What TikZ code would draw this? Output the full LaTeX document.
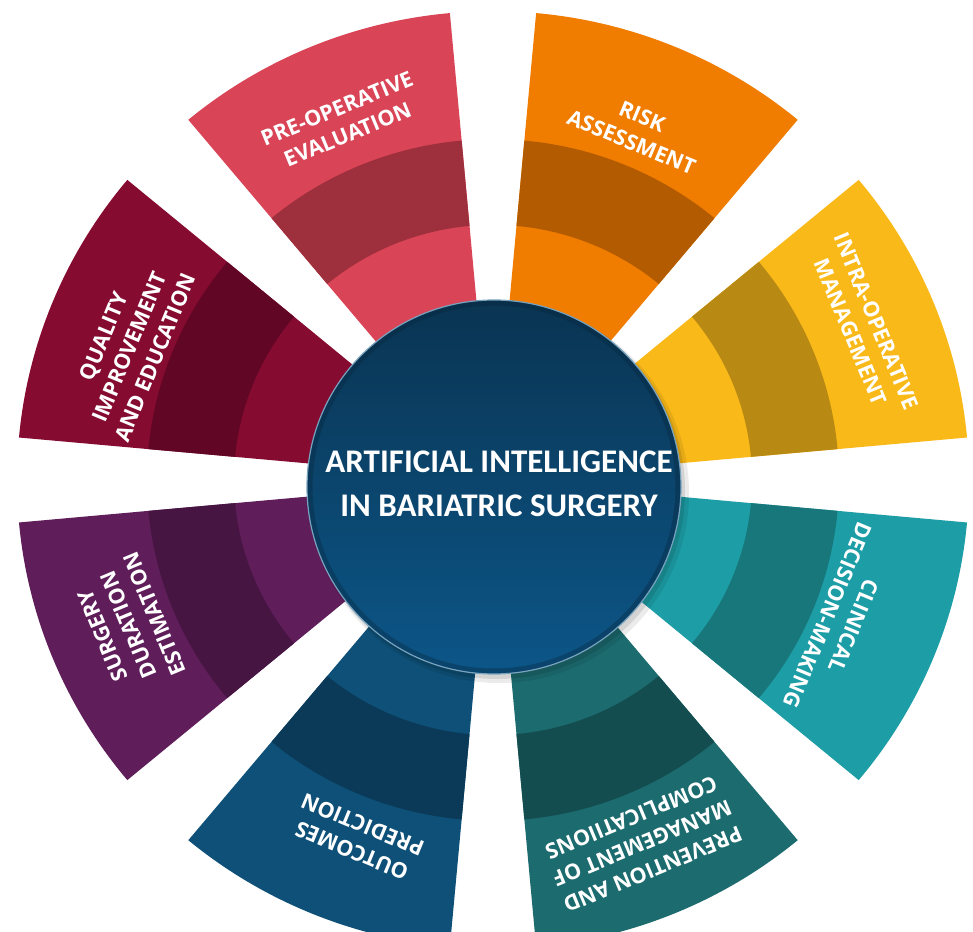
\documentclass[tikz,border=0pt]{standalone}
\usepackage{fontspec}
\setmainfont{Open Sans}
\newfontfamily\titlefont{Carlito}
\definecolor{preL}{HTML}{D94457}\definecolor{preD}{HTML}{9E2F3C}
\definecolor{riskL}{HTML}{F07C00}\definecolor{riskD}{HTML}{B35B00}
\definecolor{intraL}{HTML}{F9B918}\definecolor{intraD}{HTML}{B88913}
\definecolor{clinL}{HTML}{1D9EA6}\definecolor{clinD}{HTML}{18777B}
\definecolor{prevL}{HTML}{1C6B6F}\definecolor{prevD}{HTML}{144D50}
\definecolor{outL}{HTML}{0E5077}\definecolor{outD}{HTML}{0A3A58}
\definecolor{surgL}{HTML}{5F1D5A}\definecolor{surgD}{HTML}{461542}
\definecolor{qualL}{HTML}{850B31}\definecolor{qualD}{HTML}{620626}
\definecolor{circTop}{HTML}{0A3452}\definecolor{circBot}{HTML}{0C5688}
\newcommand\fanseg[3]{%
  \pgfmathsetmacro\aA{#1-17.3}\pgfmathsetmacro\aB{#1+17.3}%
  \fill[#2] (\aA:120) arc[start angle=\aA,end angle=\aB,radius=120]
     -- (\aB:476) arc[start angle=\aB,end angle=\aA,radius=476] -- cycle;
  \fill[#3] (\aA:259) arc[start angle=\aA,end angle=\aB,radius=259]
     -- (\aB:346) arc[start angle=\aB,end angle=\aA,radius=346] -- cycle;
}
\tikzset{
  seglabel/.style={text=white, align=center, inner sep=0pt,
    font=\bfseries\fontsize{21.5}{28}\selectfont},
  titletext/.style={text=white, align=center, inner sep=0pt,
    font=\titlefont\bfseries\fontsize{33}{44}\selectfont}
}
\begin{document}
\begin{tikzpicture}[x=1pt,y=1pt]
\useasboundingbox (0,0) rectangle (973,931);
\clip (0,0) rectangle (973,931);
\fill[white] (0,0) rectangle (973,931);
\begin{scope}[shift={(493,451)}, yscale=0.985]
  \fanseg{112.5}{preL}{preD}
  \fanseg{67.5}{riskL}{riskD}
  \fanseg{22.5}{intraL}{intraD}
  \fanseg{-22.5}{clinL}{clinD}
  \fanseg{-67.5}{prevL}{prevD}
  \fanseg{-112.5}{outL}{outD}
  \fanseg{-157.5}{surgL}{surgD}
  \fanseg{157.5}{qualL}{qualD}
  \node[seglabel, rotate=22.5] (lpre) at (112.5:394) {PRE-OPERATIVE\\EVALUATION};
  \node[seglabel, rotate=-22.5] (lrisk) at (68:384) {RISK\\ASSESSMENT};
  \node[seglabel, rotate=-67.5] (lintra) at (22.8:402) {INTRA-OPERATIVE\\MANAGEMENT};
  \node[seglabel, rotate=-112.5] (lclin) at (-22.3:376) {CLINICAL\\DECISION-MAKING};
  \node[seglabel, rotate=-157.5] (lprev) at (-68:398) {PREVENTION AND\\MANAGEMENT OF\\COMPLICATIIONS};
  \node[seglabel, rotate=157.5] (lout) at (-110.5:388) {OUTCOMES\\PREDICTION};
  \node[seglabel, rotate=112.5] (lsurg) at (-158:393) {SURGERY\\DURATION\\ESTIMATION};
  \node[seglabel, rotate=67.5] (lqual) at (159.6:388) {QUALITY\\IMPROVEMENT\\AND EDUCATION};
\end{scope}
% central disc
\fill[black, opacity=0.08] (499,438) circle (190);
\fill[black, opacity=0.10] (497,440) circle (188);
\shade[top color=circTop, bottom color=circBot] (494,444) circle (187);
\draw[circTop!70!black, line width=5, opacity=0.35] (494,444) circle (184);
\draw[white!45!circBot, line width=1.2] (494,444) circle (187);
\node[titletext] (title) at (499,447) {ARTIFICIAL INTELLIGENCE\\IN BARIATRIC SURGERY};
\end{tikzpicture}
\end{document}
